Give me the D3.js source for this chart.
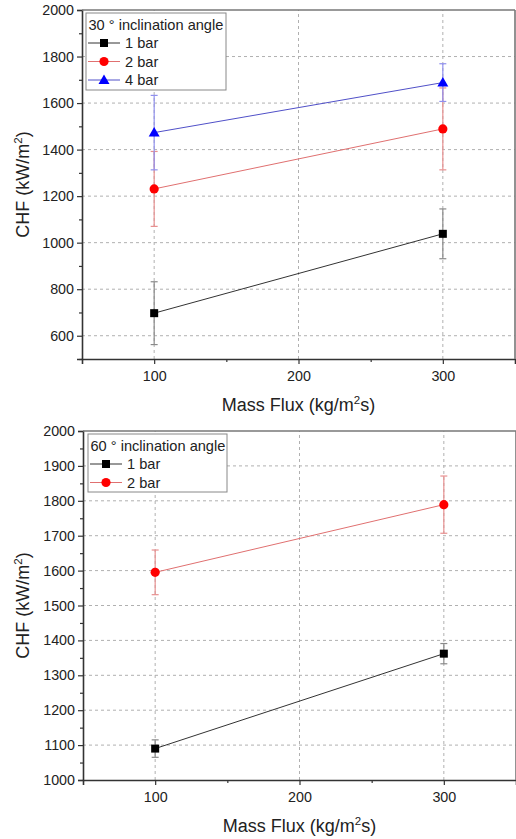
<!DOCTYPE html>
<html><head><meta charset="utf-8">
<script src="https://cdn.jsdelivr.net/npm/d3@7"></script>
<style>body{margin:0;background:#fff}svg{display:block;font-family:Arial,"Liberation Sans",sans-serif}</style>
</head><body>
<svg id="c" width="516" height="839"></svg>
<script>
// ---- data ----
const massFlux = [100, 300];
const xTicks = [100, 200, 300];
const xMinorTicks = [150, 250];

// 30 degree panel
const top1bar = [697, 1038];
const top1barErr = [135, 107];
const top2bar = [1231, 1489];
const top2barErr = [161, 176];
const top4bar = [1473, 1688];
const top4barErr = [160, 81];
const topYTicks = [600, 800, 1000, 1200, 1400, 1600, 1800, 2000];
const topYMinor = [500, 700, 900, 1100, 1300, 1500, 1700, 1900];

// 60 degree panel
const bot1bar = [1090, 1362];
const bot1barErr = [25, 29];
const bot2bar = [1595, 1789];
const bot2barErr = [64, 82];
const botYTicks = [1000, 1100, 1200, 1300, 1400, 1500, 1600, 1700, 1800, 1900, 2000];
const botYMinor = [1050, 1150, 1250, 1350, 1450, 1550, 1650, 1750, 1850, 1950];

const seriesStyle = {
  "1 bar": {marker: "square", fill: "#000", line: "#333", err: "#8a8a8a"},
  "2 bar": {marker: "circle", fill: "#ff0000", line: "#e07070", err: "#e89090"},
  "4 bar": {marker: "triangle", fill: "#0000ff", line: "#5050c8", err: "#9090ee"}
};

const svg = d3.select("#c");

function drawPanel(o) {
  const x = d3.scaleLinear().domain([50, 350]).range([o.x0, o.x1]);
  const y = d3.scaleLinear().domain(o.yDomain).range([o.y0, o.y1]);
  const g = svg.append("g");

  // grid
  g.append("g").selectAll("line").data(o.yTicks.filter(v => v > o.yDomain[0] && v < o.yDomain[1]))
    .join("line").attr("x1", o.x0).attr("x2", o.x1).attr("y1", d => y(d)).attr("y2", d => y(d))
    .attr("stroke", "#b0b0b0").attr("stroke-width", 1).attr("stroke-dasharray", "3,3");
  g.append("g").selectAll("line").data(xTicks)
    .join("line").attr("y1", o.y0).attr("y2", o.y1).attr("x1", d => x(d)).attr("x2", d => x(d))
    .attr("stroke", "#b0b0b0").attr("stroke-width", 1).attr("stroke-dasharray", "3,3");

  // series lines
  o.series.forEach(s => {
    const st = seriesStyle[s.name];
    const pts = massFlux.map((m, i) => [m, s.values[i]]);
    g.append("path").datum(pts)
      .attr("d", d3.line().x(d => x(d[0])).y(d => y(d[1])))
      .attr("fill", "none").attr("stroke", st.line).attr("stroke-width", 1);
  });
  // error bars
  o.series.forEach(s => {
    const st = seriesStyle[s.name];
    const eg = g.append("g").attr("stroke", st.err).attr("stroke-width", 1.2);
    massFlux.forEach((m, i) => {
      const v = s.values[i], e = s.err[i];
      eg.append("line").attr("x1", x(m)).attr("x2", x(m)).attr("y1", y(v - e)).attr("y2", y(v + e));
      [v - e, v + e].forEach(c => eg.append("line").attr("x1", x(m) - 3.5).attr("x2", x(m) + 3.5).attr("y1", y(c)).attr("y2", y(c)));
    });
  });
  // markers
  o.series.forEach(s => {
    const st = seriesStyle[s.name];
    massFlux.forEach((m, i) => drawMarker(g, st, x(m), y(s.values[i])));
  });

  // axes
  const yAxis = d3.axisLeft(y).tickValues(o.yTicks).tickSize(5).tickPadding(3).tickFormat(d3.format("d"));
  const ya = g.append("g").attr("transform", `translate(${o.x0},0)`).call(yAxis);
  const yMin = d3.axisLeft(y).tickValues(o.yMinor).tickSize(3).tickFormat("");
  const ym = g.append("g").attr("transform", `translate(${o.x0},0)`).call(yMin);
  const xAxis = d3.axisBottom(x).tickValues(xTicks).tickSize(5).tickPadding(7).tickFormat(d3.format("d"));
  const xa = g.append("g").attr("transform", `translate(0,${o.y0})`).call(xAxis);
  const xMin = d3.axisBottom(x).tickValues(xMinorTicks).tickSize(3).tickFormat("");
  const xm = g.append("g").attr("transform", `translate(0,${o.y0})`).call(xMin);
  [ya, ym, xa, xm].forEach(a => {
    a.select(".domain").attr("stroke", "#333").attr("stroke-width", 1.6);
    a.selectAll(".tick line").attr("stroke", "#333").attr("stroke-width", 1.2);
    a.selectAll("text").attr("font-size", 14.3).attr("fill", "#222").attr("font-family", "Arial, 'Liberation Sans', sans-serif");
  });
  ym.select(".domain").remove(); xm.select(".domain").remove();
  // top/right frame
  g.append("line").attr("x1", o.x0).attr("x2", o.x1).attr("y1", o.y1).attr("y2", o.y1).attr("stroke", "#777").attr("stroke-width", 1.6);
  g.append("line").attr("x1", o.x1).attr("x2", o.x1).attr("y1", o.y1).attr("y2", o.y0).attr("stroke", "#777").attr("stroke-width", 1.6);

  // axis titles
  const yt = g.append("text").attr("transform", `translate(${o.yTitleX},${(o.y0 + o.y1) / 2}) rotate(-90)`)
    .attr("text-anchor", "middle").attr("font-size", 18).attr("fill", "#222");
  yt.append("tspan").text("CHF (kW/m");
  yt.append("tspan").attr("font-size", 11.5).attr("dy", -7).text("2");
  yt.append("tspan").attr("dy", 7).text(")");
  const xt = g.append("text").attr("x", (o.x0 + o.x1) / 2).attr("y", o.xTitleY)
    .attr("text-anchor", "middle").attr("font-size", 18).attr("fill", "#222");
  xt.append("tspan").text("Mass Flux (kg/m");
  xt.append("tspan").attr("font-size", 11.5).attr("dy", -7).text("2");
  xt.append("tspan").attr("dy", 7).text("s)");

  // legend
  const lg = g.append("g");
  lg.append("rect").attr("x", o.leg.x).attr("y", o.leg.y).attr("width", o.leg.w).attr("height", o.leg.h)
    .attr("fill", "#fff").attr("stroke", "#888").attr("stroke-width", 1);
  lg.append("text").attr("x", o.leg.x + 2.5).attr("y", o.leg.y + 17).attr("font-size", 14.6).attr("fill", "#222").text(o.title);
  o.series.forEach((s, i) => {
    const st = seriesStyle[s.name];
    const cy = o.leg.y + 30 + i * 18.5;
    lg.append("line").attr("x1", o.leg.x + 2).attr("x2", o.leg.x + 34).attr("y1", cy).attr("y2", cy)
      .attr("stroke", st.line).attr("stroke-width", 1);
    drawMarker(lg, st, o.leg.x + 18, cy);
    lg.append("text").attr("x", o.leg.x + 39).attr("y", cy + 5).attr("font-size", 14.6).attr("fill", "#222").text(s.name);
  });
}

function drawMarker(g, st, cx, cy) {
  if (st.marker === "square") {
    g.append("rect").attr("x", cx - 4).attr("y", cy - 4).attr("width", 8).attr("height", 8).attr("fill", st.fill);
  } else if (st.marker === "circle") {
    g.append("circle").attr("cx", cx).attr("cy", cy).attr("r", 4.6).attr("fill", st.fill);
  } else {
    g.append("path").attr("d", `M${cx},${cy - 5.5}L${cx + 5.5},${cy + 4}L${cx - 5.5},${cy + 4}Z`).attr("fill", st.fill);
  }
}

drawPanel({
  x0: 82, x1: 515, y0: 359, y1: 10, yDomain: [500, 2000],
  yTicks: topYTicks, yMinor: topYMinor, yTitleX: 29, xTitleY: 411,
  title: "30 \u00B0 inclination angle",
  leg: {x: 86, y: 13, w: 140, h: 77},
  series: [
    {name: "1 bar", values: top1bar, err: top1barErr},
    {name: "2 bar", values: top2bar, err: top2barErr},
    {name: "4 bar", values: top4bar, err: top4barErr}
  ]
});
drawPanel({
  x0: 83, x1: 516, y0: 780, y1: 431, yDomain: [1000, 2000],
  yTicks: botYTicks, yMinor: botYMinor, yTitleX: 29, xTitleY: 832,
  title: "60 \u00B0 inclination angle",
  leg: {x: 88, y: 434, w: 139, h: 58},
  series: [
    {name: "1 bar", values: bot1bar, err: bot1barErr},
    {name: "2 bar", values: bot2bar, err: bot2barErr}
  ]
});
</script>
</body></html>
